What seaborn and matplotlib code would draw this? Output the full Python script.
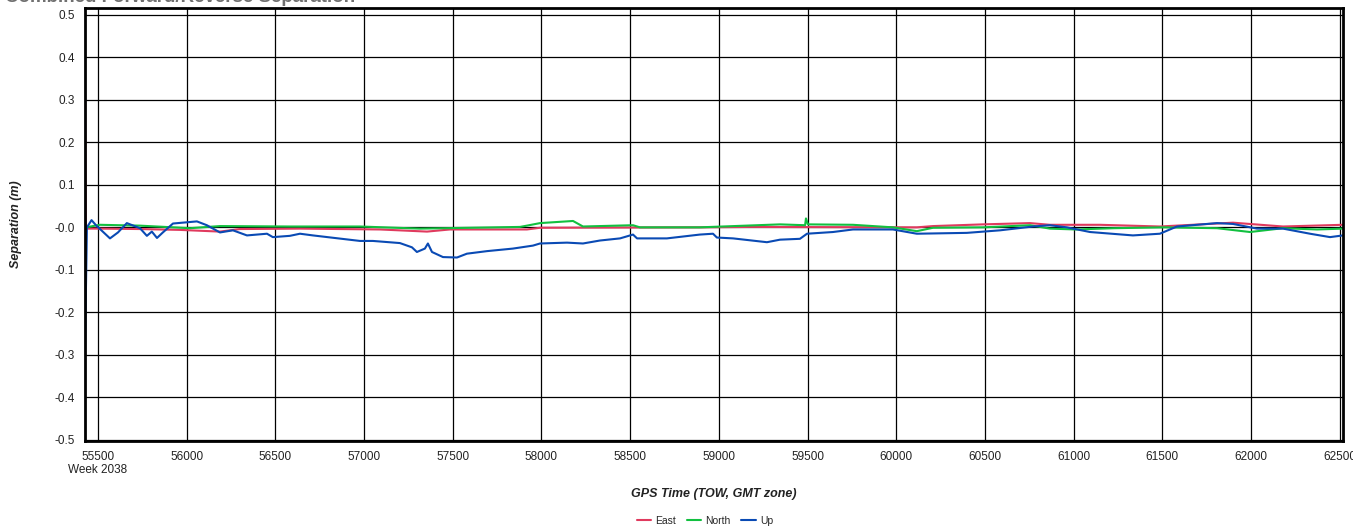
import matplotlib
matplotlib.use("Agg")
import matplotlib.pyplot as plt
import pandas as pd
import seaborn as sns

# GPS time of week (s) and separation (m)
up_time = [55427, 55438, 55464, 55489, 55568, 55613, 55663, 55737, 55776, 55804,
           55833, 55866, 55923, 56058, 56114, 56188, 56261, 56340, 56453, 56486,
           56582, 56639, 56712, 56977, 57050, 57202, 57270, 57298, 57343, 57360,
           57383, 57445, 57524, 57580, 57693, 57839, 57952, 57992, 58144, 58234,
           58330, 58443, 58516, 58539, 58707, 58893, 58967, 58989, 59080, 59271,
           59345, 59457, 59497, 59643, 59756, 59981, 60116, 60398, 60585, 60771,
           60866, 60962, 61092, 61334, 61486, 61582, 61808, 61898, 62033, 62180,
           62332, 62445, 62518]
up_sep = [-0.290, 0.000, 0.017, 0.005, -0.026, -0.012, 0.010, -0.002, -0.020, -0.010,
          -0.025, -0.012, 0.009, 0.014, 0.005, -0.012, -0.007, -0.019, -0.015, -0.023,
          -0.020, -0.015, -0.019, -0.032, -0.032, -0.037, -0.047, -0.058, -0.050, -0.038,
          -0.058, -0.070, -0.071, -0.062, -0.056, -0.050, -0.043, -0.038, -0.036, -0.038,
          -0.031, -0.026, -0.017, -0.026, -0.026, -0.017, -0.015, -0.024, -0.026, -0.035,
          -0.029, -0.027, -0.015, -0.011, -0.005, -0.005, -0.015, -0.013, -0.007, 0.002,
          0.005, 0.000, -0.011, -0.019, -0.015, 0.002, 0.010, 0.008, -0.003, -0.003,
          -0.015, -0.023, -0.019]

east_time = [55427, 55432, 55511, 55737, 55962, 56188, 56300, 56639, 57090, 57355,
             57484, 57918, 57992, 58893, 59175, 60116, 60207, 60489, 60754, 60866,
             61148, 61486, 61898, 62180, 62518]
east_sep = [0.300, -0.003, -0.003, -0.004, -0.006, -0.010, -0.004, -0.003, -0.005, -0.010,
            -0.005, -0.005, -0.001, 0.000, 0.001, 0.000, 0.003, 0.007, 0.010, 0.006,
            0.006, 0.002, 0.011, 0.002, 0.006]

north_time = [55427, 55432, 55511, 55737, 56019, 56188, 56582, 56977, 57315, 57879,
              57918, 57992, 58178, 58234, 58516, 58555, 58893, 59345, 59486, 59491,
              59502, 59756, 59981, 60116, 60207, 60489, 60754, 60866, 61013, 61227,
              61509, 61808, 61994, 62180, 62372, 62518]
north_sep = [-0.200, 0.000, 0.006, 0.004, -0.002, 0.003, 0.002, 0.002, -0.003, 0.001,
             0.004, 0.010, 0.015, 0.002, 0.005, 0.000, 0.000, 0.007, 0.005, 0.021,
             0.007, 0.006, 0.000, -0.009, -0.001, 0.000, 0.005, -0.003, -0.005, -0.002,
             0.000, -0.002, -0.011, -0.002, -0.005, -0.003]

x_ticks = list(range(55500, 63000, 500))
x_labels = [str(t) for t in x_ticks]
x_labels[0] = "55500\nWeek 2038"
y_ticks = [0.5, 0.4, 0.3, 0.2, 0.1, 0.0, -0.1, -0.2, -0.3, -0.4, -0.5]
y_labels = ["0.5", "0.4", "0.3", "0.2", "0.1", "-0.0", "-0.1", "-0.2", "-0.3", "-0.4", "-0.5"]

colors = {"East": "#e03a5e", "North": "#12c040", "Up": "#0a4ab4"}

df = pd.concat([
    pd.DataFrame({"time": east_time, "sep": east_sep, "component": "East"}),
    pd.DataFrame({"time": north_time, "sep": north_sep, "component": "North"}),
    pd.DataFrame({"time": up_time, "sep": up_sep, "component": "Up"}),
])

sns.set_style("white")
plt.rcParams["font.family"] = ["Liberation Sans", "DejaVu Sans"]

fig = plt.figure(figsize=(13.53, 5.29), dpi=100)
ax = fig.add_axes([0.0628, 0.1664, 0.9298, 0.8185])

sns.lineplot(data=df, x="time", y="sep", hue="component", palette=colors,
             estimator=None, sort=False, linewidth=1.5, ax=ax)

ax.set_xlim(55427, 62518)
ax.set_ylim(-0.503, 0.5165)
ax.set_xticks(x_ticks)
ax.set_xticklabels(x_labels, fontsize=8.5, color="#222222", ha="center",
                   multialignment="center")
ax.set_yticks(y_ticks)
ax.set_yticklabels(y_labels, fontsize=8.5, color="#222222")
ax.tick_params(axis="both", direction="out", length=4, width=1, color="#444444", pad=3)
ax.grid(True, color="black", linewidth=0.9)
for s in ax.spines.values():
    s.set_color("black")
    s.set_linewidth(2)

ax.set_xlabel("GPS Time (TOW, GMT zone)", fontsize=9, fontweight="bold",
              fontstyle="italic", color="#222222", va="center")
ax.xaxis.set_label_coords(0.5, -0.122)
ax.set_ylabel("Separation (m)", fontsize=9, fontweight="bold",
              fontstyle="italic", color="#222222", va="center")
ax.yaxis.set_label_coords(-0.055, 0.5)

fig.text(0.004, 0.9965, "Combined Forward/Reverse Separation", fontsize=13.5,
         fontweight="bold", color="#707070", va="baseline", ha="left")

handles, labels = ax.get_legend_handles_labels()
ax.get_legend().remove()
fig.legend(handles, labels, loc="center", bbox_to_anchor=(0.521, 1 - 521 / 529),
           ncol=3, frameon=False, fontsize=7.5, handlelength=1.4,
           handletextpad=0.4, columnspacing=1.0)

fig.savefig("out.png", dpi=100)
